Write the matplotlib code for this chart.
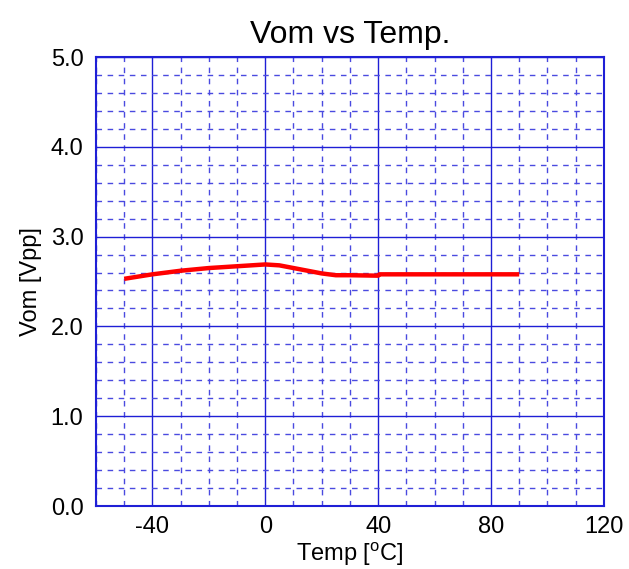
import matplotlib
matplotlib.use("Agg")
import matplotlib.pyplot as plt
from matplotlib.ticker import MultipleLocator

plt.rcParams['font.family'] = ['Liberation Sans', 'DejaVu Sans']
plt.rcParams['mathtext.fontset'] = 'custom'
plt.rcParams['mathtext.rm'] = 'Liberation Sans'

temp = [-50, -40, -30, -20, -10, 0, 5, 10, 15, 20, 25, 30, 40, 40.5, 50, 60, 70, 80, 90]
vom = [2.53, 2.58, 2.62, 2.65, 2.67, 2.69, 2.68, 2.65, 2.62, 2.59, 2.57, 2.57, 2.565, 2.58, 2.58, 2.58, 2.58, 2.58, 2.58]

x_ticks = [-40, 0, 40, 80, 120]
y_ticks = [0.0, 1.0, 2.0, 3.0, 4.0, 5.0]

fig = plt.figure(figsize=(6.29, 5.69), dpi=100)
ax = fig.add_axes([0.1526, 0.1107, 0.8074, 0.7891])

major_c = '#1f1fd6'
minor_c = '#4a4ae0'

ax.plot(temp, vom, color='#ff0000', linewidth=3.2, solid_capstyle='butt', zorder=3)

ax.set_xlim(-60, 120)
ax.set_ylim(0, 5)
ax.set_xticks(x_ticks)
ax.set_xticklabels([str(t) for t in x_ticks])
ax.set_yticks(y_ticks)
ax.set_yticklabels([f"{t:.1f}" for t in y_ticks])
ax.xaxis.set_minor_locator(MultipleLocator(10))
ax.yaxis.set_minor_locator(MultipleLocator(0.2))

ax.grid(which='major', color=major_c, linewidth=1.0, linestyle='-')
ax.grid(which='minor', color=minor_c, linewidth=1.0, linestyle=(0, (4, 4)))
ax.set_axisbelow(True)

for s in ax.spines.values():
    s.set_color(major_c)
    s.set_linewidth(1.5)

ax.tick_params(which='both', length=0, labelsize=17)
ax.tick_params(axis='x', pad=7)
ax.tick_params(axis='y', pad=9)

ax.set_title('Vom vs Temp.', fontsize=23, pad=10)
ax.set_xlabel('Temp [$^{\\mathrm{o}}$C]', fontsize=17, labelpad=2)
ax.set_ylabel('Vom [Vpp]', fontsize=17, labelpad=6)

fig.savefig('out.png', dpi=100)
